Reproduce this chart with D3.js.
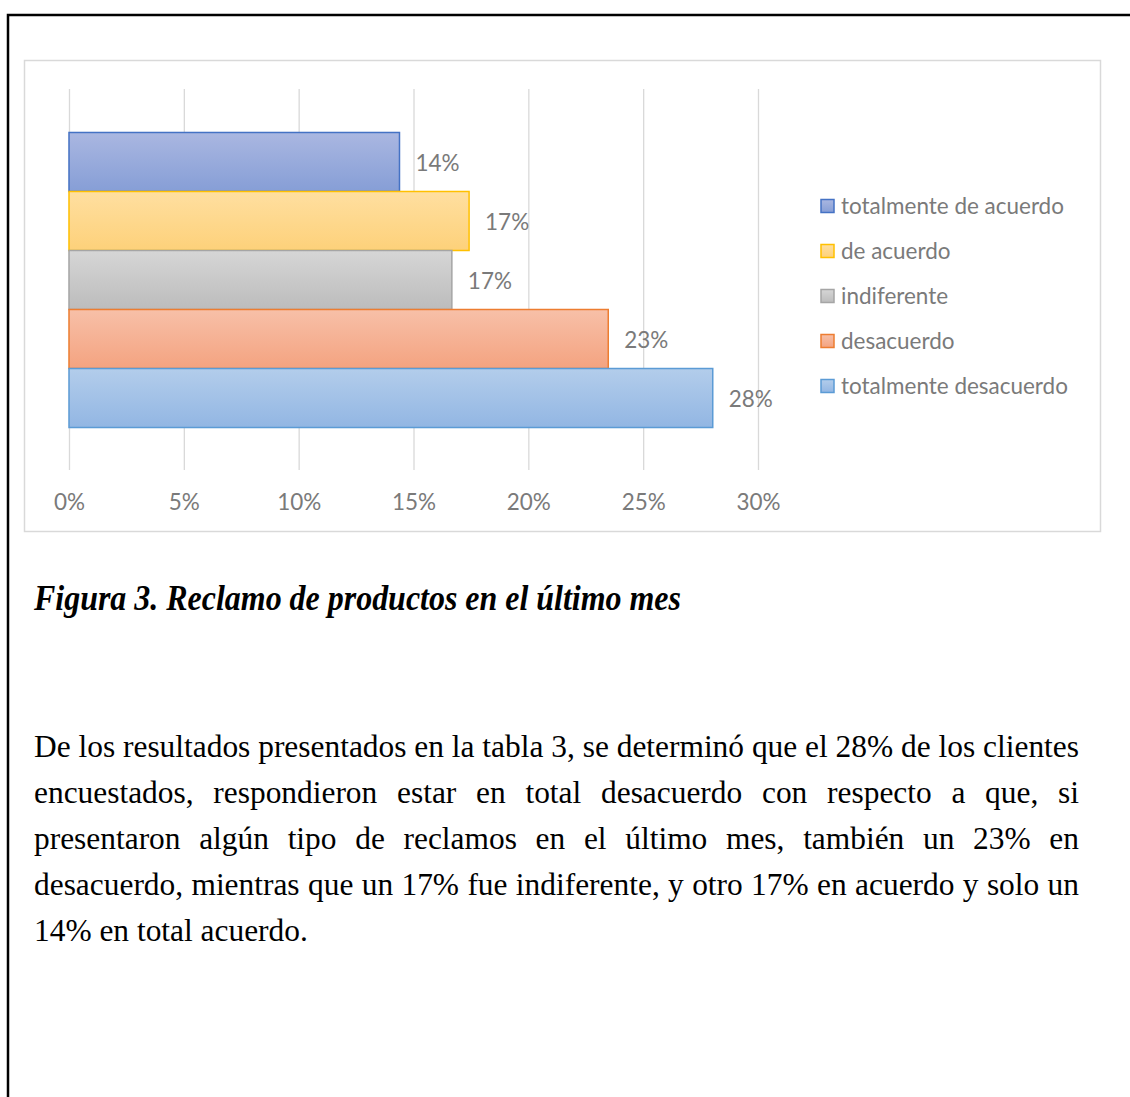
<!DOCTYPE html>
<html lang="es">
<head>
<meta charset="utf-8">
<title>Reclamo de productos en el último mes</title>
<script src="https://cdn.jsdelivr.net/npm/d3@7/dist/d3.min.js"></script>
<style>
  html, body { margin: 0; padding: 0; background: #fff; }
  svg { display: block; }
</style>
</head>
<body>
<svg id="page" width="1130" height="1097"></svg>
<script>
// Response categories (top to bottom) and their share of the 132 customers surveyed
const categories = ["totalmente de acuerdo", "de acuerdo", "indiferente", "desacuerdo", "totalmente desacuerdo"];
const shares = [0.1439, 0.1742, 0.1667, 0.2348, 0.2803];
const xTicks = [0, 0.05, 0.10, 0.15, 0.20, 0.25, 0.30];

const captionText = "Figura 3. Reclamo de productos en el último mes";
const paragraphLines = [
  "De los resultados presentados en la tabla 3, se determinó que el 28% de los clientes",
  "encuestados, respondieron estar en total desacuerdo con respecto a que, si",
  "presentaron algún tipo de reclamos en el último mes, también un 23% en",
  "desacuerdo, mientras que un 17% fue indiferente, y otro 17% en acuerdo y solo un",
  "14% en total acuerdo."
];

// Series styling: outline colour plus a light vertical gradient
const palette = [
  { stroke: "#4472c4", top: "#aab7e1", bottom: "#869ed6" },
  { stroke: "#ffc000", top: "#ffdfa0", bottom: "#fdd17a" },
  { stroke: "#a5a5a5", top: "#d6d6d6", bottom: "#bcbcbc" },
  { stroke: "#ed7d31", top: "#f7c0a8", bottom: "#f4a380" },
  { stroke: "#5b9bd5", top: "#b3cdeb", bottom: "#92b6e3" }
];

const svg = d3.select("#page");
const chartFont = "Lato, 'Open Sans', sans-serif";
const textGray = "#7a7a7a";

// gradients
const defs = svg.append("defs");
palette.forEach((p, i) => {
  const g = defs.append("linearGradient")
    .attr("id", "grad" + i).attr("x1", 0).attr("y1", 0).attr("x2", 0).attr("y2", 1);
  g.append("stop").attr("offset", "0%").attr("stop-color", p.top);
  g.append("stop").attr("offset", "100%").attr("stop-color", p.bottom);
});

// page border (top and left rule)
svg.append("path")
  .attr("d", "M8,1097V15H1130")
  .attr("fill", "none").attr("stroke", "#000").attr("stroke-width", 2.5);

// chart frame
svg.append("rect")
  .attr("x", 24.5).attr("y", 60.5).attr("width", 1076).attr("height", 471)
  .attr("fill", "#fff").attr("stroke", "#d9d9d9").attr("stroke-width", 1.5);

// helper: font size that makes a string reach a target width
function fitSize(text, family, weight, style, target) {
  const t = svg.append("text").attr("font-family", family).attr("font-weight", weight)
    .attr("font-style", style).attr("font-size", 100).text(text);
  const w = t.node().getComputedTextLength();
  t.remove();
  return 100 * target / w;
}

const chartSize = Math.min(23, fitSize("totalmente de acuerdo", chartFont, "normal", "normal", 223));

const x = d3.scaleLinear().domain([0, 0.30]).range([69, 758]);
const y = d3.scaleBand().domain(categories).range([89, 471]).paddingInner(0).paddingOuter(0.737);

// axis with full-height gridlines
const axis = d3.axisBottom(x)
  .tickValues(xTicks)
  .tickFormat(d3.format(".0%"))
  .tickSizeInner(-(470 - 89))
  .tickSizeOuter(0);

const axG = svg.append("g").attr("transform", "translate(0,470)").call(axis);
axG.select(".domain").remove();
axG.selectAll(".tick line").attr("stroke", "#d9d9d9").attr("stroke-width", 1.3);
axG.selectAll(".tick text")
  .attr("y", 32).attr("dy", "0.35em")
  .attr("fill", textGray)
  .attr("font-family", chartFont)
  .attr("font-size", chartSize);

// bars
const rows = categories.map((c, i) => ({ cat: c, value: shares[i], style: palette[i], idx: i }));
svg.append("g").selectAll("rect").data(rows).join("rect")
  .attr("x", x(0))
  .attr("y", d => y(d.cat))
  .attr("width", d => x(d.value) - x(0))
  .attr("height", y.bandwidth())
  .attr("fill", d => "url(#grad" + d.idx + ")")
  .attr("stroke", d => d.style.stroke)
  .attr("stroke-width", 1.5);

// value labels
svg.append("g").selectAll("text").data(rows).join("text")
  .attr("x", d => x(d.value) + 16)
  .attr("y", d => y(d.cat) + y.bandwidth() / 2 + 1)
  .attr("dy", "0.35em")
  .attr("fill", textGray)
  .attr("font-family", chartFont)
  .attr("font-size", chartSize)
  .text(d => d3.format(".0%")(d.value));

// legend
const legend = svg.append("g").selectAll("g").data(rows).join("g")
  .attr("transform", (d, i) => `translate(821,${206 + i * 45})`);
legend.append("rect")
  .attr("x", 0).attr("y", -6.5).attr("width", 13).attr("height", 13)
  .attr("fill", d => "url(#grad" + d.idx + ")")
  .attr("stroke", d => d.style.stroke).attr("stroke-width", 1.5);
legend.append("text")
  .attr("x", 20).attr("y", 0).attr("dy", "0.35em")
  .attr("fill", textGray)
  .attr("font-family", chartFont)
  .attr("font-size", chartSize)
  .text(d => d.cat);

// caption
const serif = "'Liberation Serif', 'Times New Roman', serif";
svg.append("text")
  .attr("x", 34).attr("y", 610)
  .attr("font-family", serif).attr("font-weight", "bold").attr("font-style", "italic")
  .attr("font-size", 36)
  .attr("textLength", 647).attr("lengthAdjust", "spacingAndGlyphs")
  .attr("fill", "#000")
  .text(captionText);

// justified paragraph: spread the words of every line except the last
const left = 34, right = 1079;
const bodySize = fitSize(paragraphLines[0], serif, "normal", "normal", right - left);
const para = svg.append("g").attr("font-family", serif).attr("font-size", bodySize).attr("fill", "#000");
paragraphLines.forEach((line, li) => {
  const baseY = 757 + li * 46;
  const last = li === paragraphLines.length - 1;
  if (last) {
    para.append("text").attr("x", left).attr("y", baseY).text(line);
    return;
  }
  const words = line.split(" ");
  const widths = words.map(w => {
    const t = para.append("text").text(w);
    const wd = t.node().getComputedTextLength();
    t.remove();
    return wd;
  });
  const gap = (right - left - d3.sum(widths)) / (words.length - 1);
  let cx = left;
  words.forEach((w, wi) => {
    para.append("text").attr("x", cx).attr("y", baseY).text(w);
    cx += widths[wi] + gap;
  });
});
</script>
</body>
</html>
